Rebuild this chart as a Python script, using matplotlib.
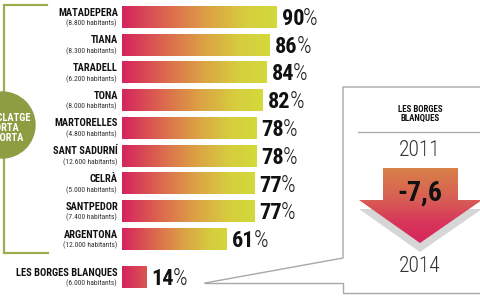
import numpy as np
import matplotlib
matplotlib.use("Agg")
import matplotlib.pyplot as plt
from matplotlib.colors import LinearSegmentedColormap
from matplotlib.patches import Polygon, Circle
from matplotlib.lines import Line2D

plt.rcParams['font.family'] = ['Roboto Condensed', 'DejaVu Sans']

# ---------------- data ----------------
towns = ['MATADEPERA', 'TIANA', 'TARADELL', 'TONA', 'MARTORELLES',
         'SANT SADURNÍ', 'CELRÀ', 'SANTPEDOR', 'ARGENTONA', 'LES BORGES BLANQUES']
inhabitants = ['8.800', '8.300', '6.200', '8.000', '4.800',
               '12.600', '5.000', '7.400', '12.000', '6.000']
percent = [90, 86, 84, 82, 78, 78, 77, 77, 61, 14]
side_title = ['RECICLATGE', 'PORTA', 'A PORTA']
box_title = 'LES BORGES\nBLANQUES'
year_from, year_to = '2011', '2014'
change = '-7,6'

# ---------------- figure ----------------
W, H = 480, 300
fig = plt.figure(figsize=(W / 100, H / 100), dpi=100)
fig.patch.set_facecolor('white')

# overlay in pixel coordinates for decoration
ov = fig.add_axes([0, 0, 1, 1])
ov.set_xlim(0, W)
ov.set_ylim(H, 0)
ov.axis('off')

# bar axes
px_per_pct = 1.719
bar_left_px = 122
row0_px, row_step = 17, 27.75
ax = fig.add_axes([bar_left_px / W, 0, (W - bar_left_px) / W, 1])
ax.axis('off')

positions = list(np.arange(len(towns) - 1, dtype=float)) + [len(towns) - 1 + 0.37]
bar_h = 0.79

cmap = LinearSegmentedColormap.from_list('bars', [
    (0.0, '#d5245d'), (0.3, '#dc6a4e'), (0.55, '#dca145'),
    (0.8, '#d6cd3e'), (1.0, '#d3d93b')])

for name, inh, v, y in zip(towns, inhabitants, percent, positions):
    t_end = min(1.0, v / 65.0)
    grad = np.linspace(0, t_end, 256).reshape(1, -1)
    ax.imshow(grad, extent=[0, v, y + bar_h / 2, y - bar_h / 2], aspect='auto',
              cmap=cmap, vmin=0, vmax=1, interpolation='bilinear')
    # name and inhabitants
    ax.annotate(name, xy=(0, y), xytext=(-4, 1.5), textcoords='offset pixels',
                ha='right', va='baseline', fontsize=7.5, fontweight='black',
                color='#111111', annotation_clip=False)
    ax.annotate(f'({inh} habitants)', xy=(0, y), xytext=(-5, -8.5),
                textcoords='offset pixels', ha='right', va='baseline',
                fontsize=5.4, color='#333333', annotation_clip=False)
    # value label
    num = ax.annotate(f'{v}', xy=(v, y), xytext=(5, -8), textcoords='offset pixels',
                      ha='left', va='baseline', fontsize=16, fontweight='black',
                      color='#111111', annotation_clip=False)
    ax.annotate('%', xy=(1, 0), xycoords=num, xytext=(-1, 0),
                textcoords='offset pixels', ha='left', va='bottom',
                fontsize=16.5, fontweight='light', color='#222222',
                annotation_clip=False)

ax.set_xlim(0, (W - bar_left_px) / px_per_pct)
ax.set_ylim((H - row0_px) / row_step, -row0_px / row_step)

# ---------------- left green bracket and circle ----------------
green_line = '#9cae4e'
green_fill = '#8e9d42'
ov.add_line(Line2D([47, 4, 4, 48], [5, 5, 253, 253], color=green_line, lw=1.6,
                   solid_joinstyle='miter'))
ov.add_patch(Circle((2, 125), 33, color=green_fill, zorder=3))
for txt, yy in zip(side_title, [118, 128, 138]):
    ov.text(4, yy, txt, ha='center', va='center', fontsize=7.5,
            fontweight='bold', color='white', zorder=4)

# ---------------- right call-out box ----------------
gray = '#a8a8a8'
ov.add_line(Line2D([205, 343, 343, 482], [283, 258, 87, 87], color=gray, lw=1.0))
ov.add_line(Line2D([205, 343, 343, 482], [283, 283, 293, 293], color=gray, lw=1.0))
ov.add_line(Line2D([358, 482], [132, 132], color=gray, lw=0.9))

ov.text(420, 114, box_title, ha='center', va='center', fontsize=6.4,
        fontweight='black', color='#111111', linespacing=1.0)
ov.text(420, 150, year_from, ha='center', va='center', fontsize=15.5,
        fontweight='light', color='#333333')
ov.text(420, 267, year_to, ha='center', va='center', fontsize=15.5,
        fontweight='light', color='#333333')

# arrow with shadow
arrow_pts = [(383, 168), (458, 168), (458, 200), (482, 200), (420, 243),
             (359, 200), (383, 200)]
shadow_pts = [(359, 209), (482, 209), (420, 252)]
ov.add_patch(Polygon(shadow_pts, closed=True, color='#d6d6d6', zorder=2, lw=0))
arrow = Polygon(arrow_pts, closed=True, facecolor='none', edgecolor='none', zorder=3)
ov.add_patch(arrow)
acmap = LinearSegmentedColormap.from_list('arrow', [
    (0.0, '#d98148'), (0.45, '#d85a55'), (0.7, '#d8385a'), (1.0, '#d6245c')])
agrad = np.linspace(0, 1, 256).reshape(-1, 1)
im = ov.imshow(agrad, extent=[359, 482, 243, 168], aspect='auto', cmap=acmap,
               interpolation='bilinear', zorder=3)
im.set_clip_path(arrow)
ov.set_xlim(0, W)
ov.set_ylim(H, 0)
ov.text(420, 193, change, ha='center', va='center', fontsize=20,
        fontweight='black', color='#111111', zorder=5)

fig.savefig('out.png', dpi=100, facecolor='white')
